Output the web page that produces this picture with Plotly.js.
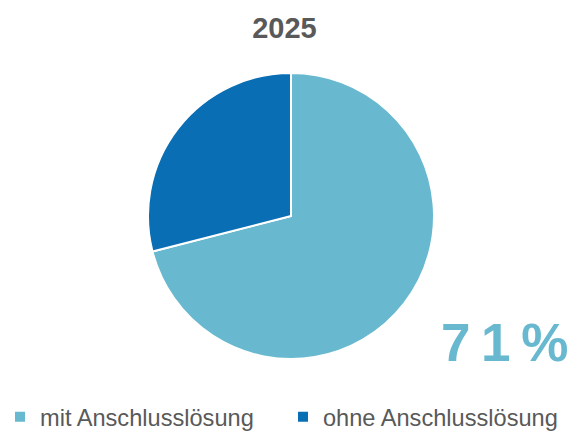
<!DOCTYPE html>
<html><head><meta charset="utf-8">
<script src="https://cdn.plot.ly/plotly-3.0.1.min.js"></script>
<style>html,body{margin:0;padding:0;background:#fff}</style>
</head><body>
<div id="chart" style="width:569px;height:432px"></div>
<script>
const categories = ["mit Anschlusslösung", "ohne Anschlusslösung"];
const shares = [71, 29];
const colors = ["#68b9cf", "#0a6eb4"];
const year = "2025";
const highlightLabel = "7\u20091\u2009%";

const trace = {
  type: "pie",
  labels: categories,
  values: shares,
  sort: false,
  direction: "clockwise",
  rotation: 0,
  textinfo: "none",
  hoverinfo: "label+percent",
  marker: {colors: colors, line: {color: "#ffffff", width: 2}},
  domain: {x: [148/569, 434/569], y: [1 - 359/432, 1 - 73/432]}
};

const layout = {
  width: 569, height: 432,
  margin: {l: 0, r: 0, t: 0, b: 0, autoexpand: false},
  paper_bgcolor: "#ffffff",
  font: {family: "Liberation Sans, Arial, sans-serif", color: "#595959"},
  title: {text: "<b>" + year + "</b>", font: {size: 29, color: "#595959"}, x: 0.5, xanchor: "center", y: 1 - 28/432, yanchor: "middle", yref: "container"},
  showlegend: true,
  legend: {orientation: "h", x: 0, xanchor: "left", y: 1 - 417/432, yanchor: "middle", font: {size: 23.6, color: "#595959"}, traceorder: "normal", entrywidth: 238, entrywidthmode: "pixels"},
  annotations: [{
    text: "<b>" + highlightLabel + "</b>", xref: "paper", yref: "paper",
    x: 504/569, y: 1 - 342/432, xanchor: "center", yanchor: "middle", showarrow: false,
    font: {size: 53, color: "#68b9cf", family: "Liberation Sans, Arial, sans-serif"}
  }]
};

Plotly.newPlot("chart", [trace], layout, {displayModeBar: false, staticPlot: true});
</script>
</body></html>
